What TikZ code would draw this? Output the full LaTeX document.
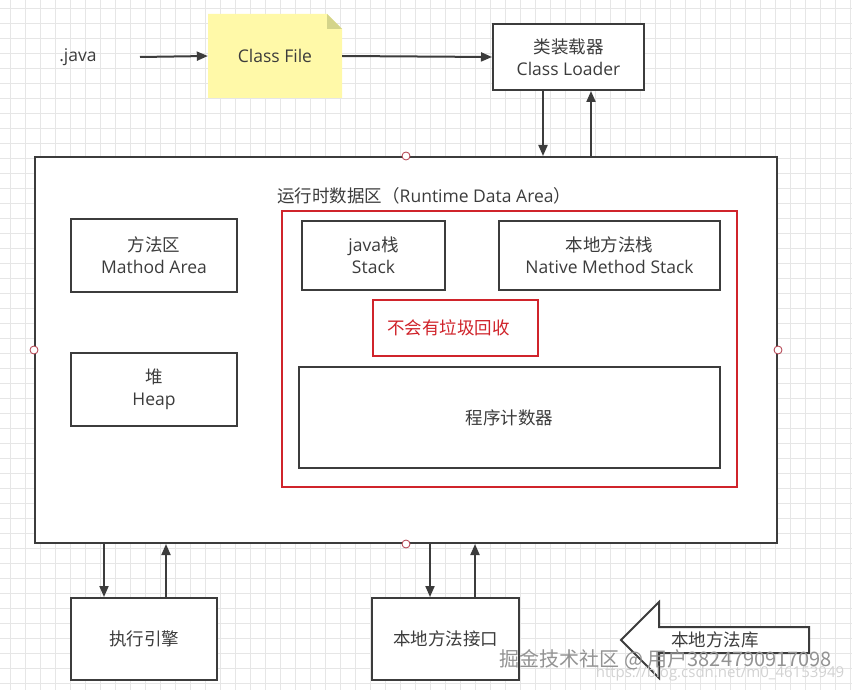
\documentclass[tikz,border=0pt]{standalone}
\usepackage{fontspec}
\setmainfont{Open Sans}
\newfontfamily\cjk{Noto Sans CJK SC}
\usetikzlibrary{arrows.meta,positioning}

\definecolor{linegray}{HTML}{3C3C3C}
\definecolor{gridgray}{HTML}{E6E6E6}
\definecolor{boxred}{HTML}{D0242B}
\definecolor{portred}{HTML}{B03A48}
\definecolor{noteyellow}{HTML}{FFF9A8}
\definecolor{notefold}{HTML}{D4D48A}

\tikzset{
  box/.style={draw=linegray, line width=2pt, fill=white, align=center,
    text=linegray, font=\fontsize{17.5}{22}\selectfont, inner sep=0pt},
  redbox/.style={box, draw=boxred},
  link/.style={draw=linegray, line width=2pt, -{Triangle[length=11pt,width=9pt]}},
  port/.style={circle, draw=portred, fill=white, line width=0.8pt,
    inner sep=0pt, minimum size=8pt},
  label/.style={text=linegray, font=\fontsize{17.5}{22}\selectfont, inner sep=0pt}
}

\begin{document}
\begin{tikzpicture}[x=1pt, y=-1pt]
\useasboundingbox (0,0) rectangle (852,690);
\fill[white] (0,0) rectangle (852,690);
% background grid
\foreach \gx in {10,25,...,850}{
  \draw[gridgray, line width=0.6pt] (\gx,0) -- (\gx,690);
}
\foreach \gy in {8,23,...,690}{
  \draw[gridgray, line width=0.6pt] (0,\gy) -- (852,\gy);
}

% loading chain
\node[label] (java) at (78,57) {.java};
\coordinate (javaout) at (140,57);
\fill[noteyellow] (208,14) -- (327,14) -- (342,29) -- (342,98) -- (208,98) -- cycle;
\fill[notefold] (327,14) -- (342,29) -- (327,29) -- cycle;
\node[label, minimum width=134pt, minimum height=84pt] (classfile) at (275,56) {Class File};
\node[box, minimum width=151pt, minimum height=66pt] (loader) at (568.5,57) {{\cjk 类装载器}\\Class Loader};
\draw[link] (javaout) -- (classfile.west);
\draw[link] (classfile.east) -- (loader.west);

% runtime data area
\node[box, minimum width=742pt, minimum height=386pt] (jvm) at (406,350) {};
\node[label, anchor=west] (rtlabel) at (277,196) {\cjk 运行时数据区（\textrm{Runtime Data Area}）};
\node[redbox, line width=1.5pt, minimum width=455pt, minimum height=276pt] (runtime) at (509.5,349) {};
\node[box, minimum width=166pt, minimum height=73pt] (method) at (154,255.5) {{\cjk 方法区}\\Mathod Area};
\node[box, minimum width=166pt, minimum height=73pt] (heap) at (154,389.5) {{\cjk 堆}\\Heap};
\node[box, minimum width=143pt, minimum height=69pt] (stack) at (373.5,255.5) {java{\cjk 栈}\\Stack};
\node[box, minimum width=221pt, minimum height=69pt] (native) at (609.5,255.5) {{\cjk 本地方法栈}\\Native Method Stack};
\node[redbox, text=boxred, line width=1.5pt, minimum height=56pt, text width=137pt,
  align=left, inner xsep=14pt] (nogc) at (455.5,328) {\cjk 不会有垃圾回收};
\node[box, minimum width=421pt, minimum height=101pt] (pc) at (509.5,417.5) {\cjk 程序计数器};

% class loader links
\draw[link] ([xshift=-25.5pt]loader.south) -- ([xshift=137pt]jvm.north);
\draw[link] ([xshift=185pt]jvm.north) -- ([xshift=22.5pt]loader.south);

% execution engine and native interface
\node[box, minimum width=146pt, minimum height=82pt] (engine) at (144,639) {\cjk 执行引擎};
\node[box, minimum width=147pt, minimum height=82pt] (nif) at (445.5,639) {\cjk 本地方法接口};
\draw[link] ([xshift=-302pt]jvm.south) -- ([xshift=-40pt]engine.north);
\draw[link] ([xshift=22pt]engine.north) -- ([xshift=-240pt]jvm.south);
\draw[link] ([xshift=24pt]jvm.south) -- ([xshift=-15.5pt]nif.north);
\draw[link] ([xshift=29.5pt]nif.north) -- ([xshift=69pt]jvm.south);

% connection points
\foreach \side in {north,south,east,west}{
  \node[port] at (jvm.\side) {};
}

% native library
\draw[linegray, line width=2pt, fill=white] (621,640) -- (659,602) -- (659,627)
  -- (809,627) -- (809,653) -- (659,653) -- (659,678) -- cycle;
\node[label] (nativelib) at (715,640) {\cjk 本地方法库};

% watermark
\node[text=gray!35, font=\fontsize{15}{18}\selectfont] (url) at (720,674) {https://blog.csdn.net/m0\_46153949};
\node[text=gray!85, font=\fontsize{20}{23}\selectfont, inner sep=0pt] (mark) at (666,660) {\cjk 掘金技术社区 @ 用户3824790917098};
\end{tikzpicture}
\end{document}
